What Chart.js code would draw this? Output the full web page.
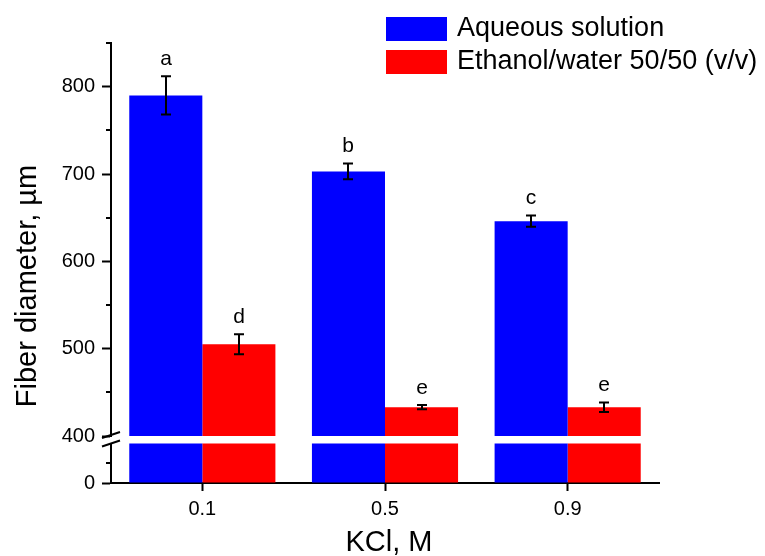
<!DOCTYPE html>
<html>
<head>
<meta charset="utf-8">
<script src="https://cdn.jsdelivr.net/npm/chart.js@4.4.1/dist/chart.umd.min.js"></script>
<style>
  html, body { margin: 0; padding: 0; background: #fff; }
  #wrap { width: 765px; height: 556px; }
</style>
</head>
<body>
<div id="wrap"><canvas id="chart" width="765" height="556"></canvas></div>
<script>
"use strict";

/* ── Data ─────────────────────────────────────────────── */
const categories  = ["0.1", "0.5", "0.9"];
const seriesNames = ["Aqueous solution", "Ethanol/water 50/50 (v/v)"];
const aqueous     = [790, 703, 646];
const aqueousErr  = [22, 9, 6.5];
const ethanol     = [505, 433, 433];
const ethanolErr  = [11.5, 2.5, 5.5];
const aqueousTags = ["a", "b", "c"];
const ethanolTags = ["d", "e", "e"];
const upperTicks  = [400, 500, 600, 700, 800];
const upperMinor  = [450, 550, 650, 750, 850];
const lowerTicks  = [0];
const lowerMinor  = [50];

const FONT = "'Liberation Sans', Arial, Helvetica, sans-serif";
const BLUE = "#0000ff";
const RED  = "#ff0000";

/* ── Helpers ─────────────────────────────────────────── */
const barDs = (label, data, color, axis, stack) => ({
  label, data, backgroundColor: color, yAxisID: axis, stack,
  borderWidth: 0, categoryPercentage: 0.8, barPercentage: 1.0, clip: 0,
});

const yScale = (extra) => Object.assign({
  type: "linear",
  position: "left",
  stack: "y",
  stacked: false,
  grid: { drawOnChartArea: false, tickLength: 9, tickWidth: 2, tickColor: "#000" },
  border: { color: "#000", width: 2 },
  ticks: { color: "#000", font: { family: FONT, size: 20 }, padding: 7 },
  afterFit: (s) => { s.width = 111; },
}, extra);

/* ── Decorations: error bars, letters, minor ticks, break, titles, legend ── */
const decorations = {
  id: "decorations",
  afterDatasetsDraw(chart) {
    const { ctx, chartArea } = chart;
    const yUp = chart.scales.yUp;
    const yLow = chart.scales.yLow;
    const axisX = yUp.right;

    ctx.save();
    ctx.strokeStyle = "#000";
    ctx.fillStyle = "#000";
    ctx.lineWidth = 2;

    // error bars + letters
    const groups = [
      { idx: 0, vals: aqueous, errs: aqueousErr, tags: aqueousTags },
      { idx: 1, vals: ethanol, errs: ethanolErr, tags: ethanolTags },
    ];
    ctx.font = `21px ${FONT}`;
    ctx.textAlign = "center";
    ctx.textBaseline = "middle";
    groups.forEach((g) => {
      const bars = chart.getDatasetMeta(g.idx).data;
      g.vals.forEach((v, i) => {
        const x = Math.round(bars[i].x);
        const top = yUp.getPixelForValue(v + g.errs[i]);
        const bot = yUp.getPixelForValue(v - g.errs[i]);
        ctx.beginPath();
        ctx.moveTo(x, top); ctx.lineTo(x, bot);
        ctx.moveTo(x - 5, top); ctx.lineTo(x + 5, top);
        ctx.moveTo(x - 5, bot); ctx.lineTo(x + 5, bot);
        ctx.stroke();
        ctx.fillText(g.tags[i], x, top - 17);
      });
    });

    // minor ticks
    ctx.beginPath();
    upperMinor.forEach((v) => {
      const y = Math.round(yUp.getPixelForValue(v));
      ctx.moveTo(axisX - 5, y); ctx.lineTo(axisX, y);
    });
    lowerMinor.forEach((v) => {
      const y = Math.round(yLow.getPixelForValue(v));
      ctx.moveTo(axisX - 5, y); ctx.lineTo(axisX, y);
    });
    ctx.stroke();

    // axis break marks
    ctx.beginPath();
    [yUp.bottom - 1, yLow.top].forEach((y) => {
      ctx.moveTo(axisX - 9, y + 3);
      ctx.lineTo(axisX + 9, y - 3);
    });
    ctx.stroke();

    // axis titles
    ctx.font = `29px ${FONT}`;
    ctx.textAlign = "center";
    ctx.textBaseline = "middle";
    ctx.fillText("KCl, M", (chartArea.left + chartArea.right) / 2 + 4, 543);
    ctx.save();
    ctx.translate(28, 286);
    ctx.rotate(-Math.PI / 2);
    ctx.fillText("Fiber diameter, \u00b5m", 0, 0);
    ctx.restore();

    // legend
    ctx.font = `27px ${FONT}`;
    ctx.textAlign = "left";
    chart.data.datasets.slice(0, 2).forEach((ds, i) => {
      const top = 17 + i * 33;
      ctx.fillStyle = ds.backgroundColor;
      ctx.fillRect(386, top, 61, 24);
      ctx.fillStyle = "#000";
      ctx.fillText(ds.label, 457, top + 12);
    });

    ctx.restore();
  },
};

/* ── Chart ───────────────────────────────────────────── */
new Chart(document.getElementById("chart"), {
  type: "bar",
  data: {
    labels: categories,
    datasets: [
      barDs(seriesNames[0], aqueous, BLUE, "yUp", "aq"),
      barDs(seriesNames[1], ethanol, RED, "yUp", "et"),
      barDs(seriesNames[0], aqueous, BLUE, "yLow", "aq"),
      barDs(seriesNames[1], ethanol, RED, "yLow", "et"),
    ],
  },
  options: {
    responsive: false,
    animation: false,
    devicePixelRatio: 1,
    layout: { padding: { top: 43, right: 106, left: 0, bottom: 0 } },
    plugins: { legend: { display: false }, tooltip: { enabled: false } },
    scales: {
      x: {
        type: "category",
        offset: true,
        grid: { drawOnChartArea: false, offset: false, tickLength: 8, tickWidth: 2, tickColor: "#000" },
        border: { color: "#000", width: 2 },
        ticks: { color: "#000", font: { family: FONT, size: 20 }, padding: 6, maxRotation: 0 },
        afterFit: (s) => { s.height = 73; },
      },
      yLow: yScale({
        stackWeight: 39.5, min: 0, max: 100,
        afterBuildTicks: (s) => { s.ticks = lowerTicks.map((v) => ({ value: v })); },
      }),
      yGap: {
        type: "linear", position: "left", stack: "y", stackWeight: 7.5, min: 0, max: 1,
        grid: { display: false }, border: { display: false }, ticks: { display: false },
        afterFit: (s) => { s.width = 111; },
      },
      yUp: yScale({
        stackWeight: 393, min: 400, max: 850,
        afterBuildTicks: (s) => { s.ticks = upperTicks.map((v) => ({ value: v })); },
      }),
    },
  },
  plugins: [decorations],
});
</script>
</body>
</html>
